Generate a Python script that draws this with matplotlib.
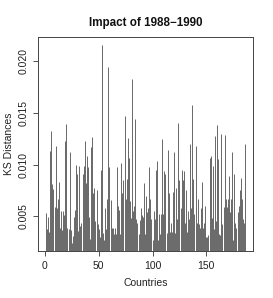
"""
KS distances per country for the 1988-1990 window, R-style type="h" plot.
"""

import matplotlib
matplotlib.use("Agg")
import matplotlib.pyplot as plt
import numpy as np

# KS distance per country (index 1..186)
ks_1_46 = [0.0053, 0.0038, 0.0049, 0.0035, 0.0113, 0.0133, 0.0081, 0.0076, 0.0059, 0.0118,
           0.0058, 0.0067, 0.0083, 0.0039, 0.0055, 0.0037, 0.0055, 0.0051, 0.0123, 0.0139,
           0.0039, 0.0038, 0.0112, 0.0037, 0.0024, 0.0031, 0.0049, 0.0056, 0.0100, 0.0091,
           0.0036, 0.0099, 0.0040, 0.0043, 0.0091, 0.0099, 0.0123, 0.0082, 0.0108, 0.0098,
           0.0049, 0.0028, 0.0117, 0.0127, 0.0072, 0.0077]
ks_47_93 = [0.0045, 0.0075, 0.0042, 0.0038, 0.0030, 0.0095, 0.0216, 0.0034, 0.0027, 0.0058,
            0.0038, 0.0067, 0.0195, 0.0098, 0.0066, 0.0039, 0.0039, 0.0033, 0.0039, 0.0033,
            0.0098, 0.0060, 0.0056, 0.0033, 0.0102, 0.0072, 0.0085, 0.0147, 0.0067, 0.0086,
            0.0126, 0.0106, 0.0065, 0.0048, 0.0183, 0.0055, 0.0060, 0.0144, 0.0047, 0.0043,
            0.0033, 0.0046, 0.0058, 0.0051, 0.0049, 0.0082, 0.0033]
ks_94_140 = [0.0070, 0.0054, 0.0058, 0.0098, 0.0067, 0.0047, 0.0027, 0.0055, 0.0047, 0.0095,
             0.0103, 0.0027, 0.0052, 0.0033, 0.0052, 0.0125, 0.0052, 0.0094, 0.0091, 0.0034,
             0.0114, 0.0072, 0.0035, 0.0043, 0.0035, 0.0073, 0.0112, 0.0034, 0.0077, 0.0047,
             0.0140, 0.0085, 0.0058, 0.0095, 0.0085, 0.0094, 0.0043, 0.0075, 0.0035, 0.0055,
             0.0047, 0.0120, 0.0058, 0.0158, 0.0086, 0.0052, 0.0118]
ks_141_186 = [0.0043, 0.0067, 0.0042, 0.0039, 0.0058, 0.0083, 0.0039, 0.0043, 0.0060, 0.0030,
              0.0030, 0.0032, 0.0106, 0.0108, 0.0048, 0.0099, 0.0038, 0.0128, 0.0045, 0.0138,
              0.0105, 0.0033, 0.0032, 0.0130, 0.0042, 0.0059, 0.0129, 0.0067, 0.0059, 0.0067,
              0.0089, 0.0054, 0.0067, 0.0112, 0.0027, 0.0091, 0.0043, 0.0039, 0.0054, 0.0060,
              0.0075, 0.0087, 0.0067, 0.0047, 0.0043, 0.0120]

x_ticks = [0, 50, 100, 150]
y_ticks = [0.005, 0.010, 0.015, 0.020]
y_ticklabels = ["0.005", "0.010", "0.015", "0.020"]
title = "Impact of 1988\u22121990"

ks = np.array(ks_1_46 + ks_47_93 + ks_94_140 + ks_141_186)
countries = np.arange(1, len(ks) + 1)

plt.rcParams["font.family"] = ["Liberation Sans", "DejaVu Sans"]

fig = plt.figure(figsize=(2.73, 2.98), dpi=100)
ax = fig.add_axes([0.139, 0.158, 0.788, 0.718])

ax.vlines(countries, 0, ks, color="#505050", linewidth=0.6)

# R default: data range padded by 4% on each side
n = len(ks)
xpad = 0.04 * (n - 1)
ax.set_xlim(1 - xpad, n + xpad)
ypad = 0.04 * (ks.max() - ks.min())
ax.set_ylim(ks.min() - ypad, ks.max() + ypad)

ax.set_xticks(x_ticks)
ax.set_xticklabels([str(t) for t in x_ticks])
ax.set_yticks(y_ticks)
ax.set_yticklabels(y_ticklabels, rotation=90, va="center")
ax.tick_params(direction="out", length=3.5, width=0.6, colors="#333333",
               labelsize=7.5, pad=3.5, labelcolor="#222222")

for s in ax.spines.values():
    s.set_color("#444444")
    s.set_linewidth(0.7)

ax.set_xlabel("Countries", fontsize=7.5, color="#222222", labelpad=5)
ax.set_ylabel("KS Distances", fontsize=7.5, color="#222222", labelpad=3)
ax.set_title(title, fontsize=8.4, fontweight="bold", color="#111111", pad=8)

fig.savefig("out.png", dpi=100)
